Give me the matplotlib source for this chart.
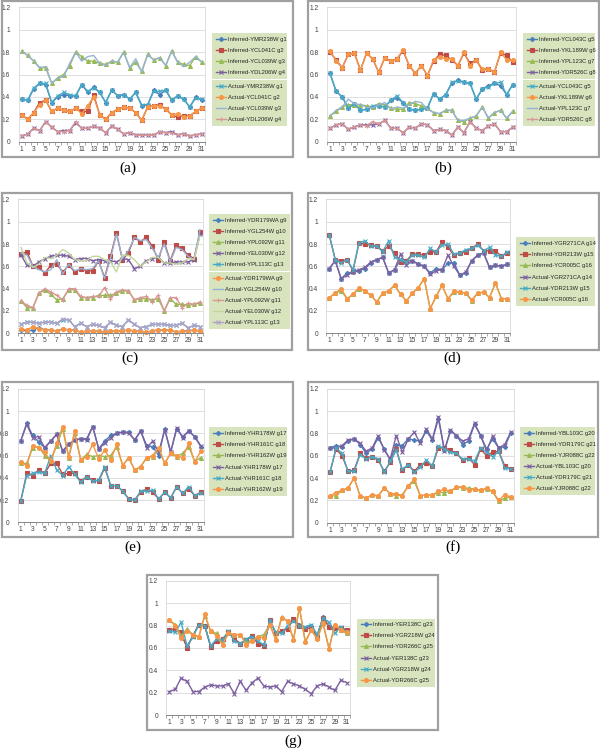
import numpy as np
import matplotlib.pyplot as plt
from matplotlib import font_manager

plt.rcParams['font.family'] = ['Liberation Sans', 'DejaVu Sans']

W, H = 600, 749

days = np.arange(1, 32)
y_ticks = [0, 0.2, 0.4, 0.6, 0.8, 1.0, 1.2]
y_tick_labels = ['0', '0.2', '0.4', '0.6', '0.8', '1', '1.2']
x_ticks = list(range(1, 32, 2))

# ---- panel (a)
inf_g1 = [0.38, 0.37, 0.47, 0.52, 0.51, 0.35, 0.40, 0.42, 0.41, 0.41, 0.51, 0.44, 0.49, 0.44, 0.35, 0.46, 0.41, 0.42, 0.38, 0.44, 0.32, 0.33, 0.46, 0.42, 0.46, 0.37, 0.41, 0.38, 0.31, 0.40, 0.37]
act_g1 = [0.38, 0.37, 0.48, 0.52, 0.52, 0.35, 0.41, 0.44, 0.42, 0.41, 0.51, 0.45, 0.48, 0.44, 0.35, 0.46, 0.41, 0.42, 0.38, 0.44, 0.33, 0.33, 0.45, 0.45, 0.46, 0.37, 0.41, 0.38, 0.31, 0.39, 0.38]
inf_g2 = [0.24, 0.20, 0.26, 0.35, 0.37, 0.27, 0.30, 0.28, 0.27, 0.30, 0.27, 0.27, 0.42, 0.24, 0.20, 0.26, 0.29, 0.31, 0.30, 0.26, 0.19, 0.31, 0.32, 0.33, 0.29, 0.24, 0.22, 0.23, 0.23, 0.27, 0.30]
act_g2 = [0.24, 0.20, 0.26, 0.33, 0.37, 0.27, 0.30, 0.28, 0.27, 0.30, 0.25, 0.32, 0.40, 0.24, 0.20, 0.26, 0.29, 0.31, 0.30, 0.26, 0.19, 0.31, 0.32, 0.32, 0.29, 0.24, 0.25, 0.22, 0.23, 0.27, 0.30]
inf_g3 = [0.81, 0.77, 0.72, 0.66, 0.66, 0.52, 0.57, 0.60, 0.68, 0.80, 0.76, 0.72, 0.72, 0.70, 0.69, 0.72, 0.71, 0.80, 0.66, 0.71, 0.63, 0.78, 0.73, 0.75, 0.68, 0.81, 0.71, 0.69, 0.68, 0.76, 0.71]
act_g3 = [0.81, 0.77, 0.72, 0.66, 0.67, 0.52, 0.57, 0.58, 0.70, 0.80, 0.72, 0.76, 0.77, 0.70, 0.68, 0.72, 0.71, 0.80, 0.66, 0.74, 0.62, 0.78, 0.73, 0.75, 0.68, 0.81, 0.71, 0.67, 0.71, 0.76, 0.71]
inf_g4 = [0.05, 0.07, 0.12, 0.10, 0.18, 0.13, 0.09, 0.10, 0.10, 0.17, 0.12, 0.12, 0.14, 0.12, 0.08, 0.14, 0.11, 0.07, 0.08, 0.06, 0.06, 0.06, 0.06, 0.09, 0.08, 0.09, 0.06, 0.07, 0.05, 0.06, 0.07]
act_g4 = [0.05, 0.07, 0.12, 0.10, 0.18, 0.13, 0.09, 0.09, 0.10, 0.18, 0.12, 0.12, 0.14, 0.12, 0.08, 0.14, 0.11, 0.07, 0.08, 0.06, 0.06, 0.06, 0.06, 0.09, 0.08, 0.08, 0.06, 0.07, 0.05, 0.06, 0.07]

# ---- panel (b)
inf_g5 = [0.61, 0.45, 0.40, 0.30, 0.34, 0.28, 0.29, 0.31, 0.32, 0.31, 0.37, 0.39, 0.35, 0.29, 0.28, 0.29, 0.30, 0.43, 0.38, 0.42, 0.52, 0.55, 0.53, 0.52, 0.38, 0.47, 0.50, 0.52, 0.50, 0.42, 0.51]
act_g5 = [0.61, 0.45, 0.40, 0.30, 0.34, 0.28, 0.29, 0.32, 0.32, 0.31, 0.37, 0.41, 0.35, 0.29, 0.28, 0.29, 0.30, 0.43, 0.38, 0.42, 0.53, 0.54, 0.53, 0.52, 0.38, 0.47, 0.49, 0.52, 0.53, 0.42, 0.51]
inf_g6 = [0.80, 0.73, 0.66, 0.78, 0.79, 0.64, 0.79, 0.74, 0.62, 0.75, 0.72, 0.74, 0.81, 0.68, 0.61, 0.68, 0.59, 0.72, 0.78, 0.77, 0.73, 0.68, 0.79, 0.70, 0.73, 0.64, 0.65, 0.62, 0.79, 0.77, 0.71]
act_g6 = [0.81, 0.72, 0.66, 0.78, 0.79, 0.64, 0.79, 0.74, 0.62, 0.75, 0.72, 0.74, 0.82, 0.68, 0.61, 0.68, 0.59, 0.73, 0.76, 0.74, 0.74, 0.68, 0.80, 0.68, 0.73, 0.65, 0.65, 0.62, 0.80, 0.73, 0.73]
inf_g7 = [0.23, 0.27, 0.31, 0.33, 0.33, 0.33, 0.32, 0.31, 0.34, 0.33, 0.30, 0.29, 0.29, 0.35, 0.34, 0.32, 0.30, 0.26, 0.25, 0.28, 0.28, 0.19, 0.18, 0.21, 0.23, 0.31, 0.21, 0.26, 0.28, 0.21, 0.27]
act_g7 = [0.23, 0.28, 0.31, 0.38, 0.34, 0.33, 0.31, 0.30, 0.33, 0.35, 0.29, 0.31, 0.30, 0.33, 0.36, 0.35, 0.29, 0.26, 0.25, 0.28, 0.28, 0.19, 0.19, 0.21, 0.23, 0.31, 0.21, 0.26, 0.28, 0.21, 0.27]
inf_g8 = [0.12, 0.15, 0.16, 0.11, 0.13, 0.15, 0.15, 0.15, 0.16, 0.19, 0.12, 0.12, 0.08, 0.13, 0.12, 0.16, 0.15, 0.10, 0.11, 0.10, 0.06, 0.13, 0.08, 0.18, 0.12, 0.10, 0.14, 0.16, 0.09, 0.09, 0.13]
act_g8 = [0.12, 0.15, 0.16, 0.11, 0.13, 0.15, 0.14, 0.18, 0.16, 0.19, 0.12, 0.12, 0.08, 0.13, 0.12, 0.16, 0.15, 0.10, 0.11, 0.10, 0.06, 0.13, 0.08, 0.18, 0.12, 0.10, 0.14, 0.16, 0.09, 0.09, 0.13]

# ---- panel (c)
inf_g9 = [0.03, 0.02, 0.03, 0.05, 0.03, 0.03, 0.02, 0.04, 0.03, 0.03, 0.01, 0.02, 0.02, 0.02, 0.01, 0.02, 0.02, 0.02, 0.03, 0.02, 0.02, 0.01, 0.02, 0.03, 0.03, 0.03, 0.01, 0.02, 0.02, 0.03, 0.02]
act_g9 = [0.04, 0.03, 0.06, 0.04, 0.03, 0.03, 0.02, 0.04, 0.03, 0.03, 0.01, 0.02, 0.02, 0.02, 0.01, 0.02, 0.02, 0.02, 0.03, 0.02, 0.02, 0.01, 0.02, 0.03, 0.03, 0.03, 0.01, 0.02, 0.02, 0.03, 0.02]
inf_g10 = [0.71, 0.73, 0.60, 0.59, 0.54, 0.61, 0.62, 0.55, 0.61, 0.55, 0.58, 0.56, 0.56, 0.65, 0.50, 0.69, 0.90, 0.66, 0.72, 0.86, 0.82, 0.86, 0.78, 0.66, 0.82, 0.65, 0.79, 0.76, 0.70, 0.67, 0.91]
act_g10 = [0.72, 0.70, 0.60, 0.57, 0.55, 0.57, 0.66, 0.53, 0.62, 0.56, 0.58, 0.57, 0.58, 0.65, 0.49, 0.67, 0.89, 0.67, 0.74, 0.86, 0.83, 0.84, 0.76, 0.68, 0.80, 0.64, 0.77, 0.75, 0.69, 0.66, 0.93]
inf_g11 = [0.29, 0.23, 0.23, 0.36, 0.39, 0.35, 0.30, 0.31, 0.39, 0.39, 0.32, 0.32, 0.32, 0.34, 0.34, 0.34, 0.36, 0.38, 0.38, 0.30, 0.31, 0.31, 0.30, 0.31, 0.20, 0.31, 0.26, 0.26, 0.25, 0.26, 0.27]
act_g11 = [0.29, 0.25, 0.23, 0.36, 0.40, 0.37, 0.34, 0.30, 0.40, 0.40, 0.33, 0.32, 0.33, 0.33, 0.41, 0.31, 0.37, 0.39, 0.38, 0.30, 0.32, 0.33, 0.28, 0.34, 0.20, 0.32, 0.32, 0.23, 0.27, 0.26, 0.28]
inf_g12 = [0.70, 0.61, 0.60, 0.64, 0.67, 0.69, 0.70, 0.70, 0.69, 0.66, 0.67, 0.67, 0.65, 0.66, 0.65, 0.65, 0.64, 0.67, 0.66, 0.58, 0.60, 0.65, 0.67, 0.68, 0.63, 0.63, 0.64, 0.64, 0.64, 0.66, 0.89]
act_g12 = [0.77, 0.63, 0.59, 0.62, 0.68, 0.67, 0.70, 0.75, 0.72, 0.66, 0.65, 0.65, 0.69, 0.69, 0.66, 0.64, 0.55, 0.70, 0.70, 0.66, 0.60, 0.64, 0.68, 0.68, 0.63, 0.63, 0.62, 0.63, 0.67, 0.66, 0.87]
inf_g13 = [0.08, 0.10, 0.10, 0.09, 0.10, 0.10, 0.09, 0.12, 0.12, 0.06, 0.09, 0.06, 0.08, 0.07, 0.05, 0.10, 0.07, 0.06, 0.12, 0.08, 0.05, 0.06, 0.08, 0.08, 0.08, 0.07, 0.07, 0.09, 0.05, 0.07, 0.06]
act_g13 = [0.08, 0.10, 0.10, 0.09, 0.10, 0.10, 0.09, 0.13, 0.12, 0.06, 0.09, 0.06, 0.08, 0.07, 0.05, 0.10, 0.07, 0.06, 0.12, 0.08, 0.05, 0.06, 0.08, 0.08, 0.08, 0.07, 0.07, 0.09, 0.05, 0.07, 0.06]

# ---- panel (d)
inf_g14 = [0.58, 0.65, 0.49, 0.54, 0.55, 0.56, 0.58, 0.63, 0.66, 0.68, 0.54, 0.57, 0.66, 0.65, 0.65, 0.62, 0.60, 0.54, 0.58, 0.57, 0.63, 0.63, 0.52, 0.54, 0.65, 0.70, 0.72, 0.59, 0.61, 0.60, 0.62]
act_g14 = [0.58, 0.65, 0.49, 0.52, 0.55, 0.57, 0.59, 0.64, 0.66, 0.68, 0.54, 0.57, 0.71, 0.61, 0.65, 0.62, 0.60, 0.53, 0.56, 0.57, 0.70, 0.60, 0.52, 0.55, 0.65, 0.70, 0.72, 0.59, 0.61, 0.60, 0.62]
inf_g15 = [0.88, 0.66, 0.65, 0.66, 0.56, 0.81, 0.80, 0.79, 0.78, 0.74, 0.78, 0.72, 0.64, 0.65, 0.71, 0.71, 0.70, 0.73, 0.73, 0.82, 0.77, 0.70, 0.72, 0.73, 0.76, 0.80, 0.74, 0.74, 0.74, 0.69, 0.72]
act_g15 = [0.88, 0.66, 0.63, 0.66, 0.57, 0.81, 0.83, 0.78, 0.78, 0.73, 0.83, 0.68, 0.66, 0.64, 0.70, 0.70, 0.68, 0.76, 0.73, 0.79, 0.80, 0.71, 0.72, 0.75, 0.76, 0.79, 0.74, 0.77, 0.70, 0.69, 0.73]
inf_g16 = [0.32, 0.36, 0.38, 0.31, 0.35, 0.40, 0.38, 0.34, 0.28, 0.36, 0.38, 0.43, 0.35, 0.29, 0.36, 0.41, 0.49, 0.22, 0.33, 0.43, 0.31, 0.37, 0.37, 0.36, 0.29, 0.36, 0.37, 0.32, 0.45, 0.31, 0.31]
act_g16 = [0.32, 0.36, 0.40, 0.31, 0.35, 0.41, 0.38, 0.34, 0.28, 0.36, 0.38, 0.43, 0.35, 0.29, 0.36, 0.41, 0.49, 0.22, 0.33, 0.43, 0.31, 0.38, 0.37, 0.36, 0.30, 0.36, 0.37, 0.32, 0.45, 0.31, 0.31]

# ---- panel (e)
inf_g17 = [0.73, 0.89, 0.78, 0.72, 0.67, 0.73, 0.79, 0.64, 0.70, 0.74, 0.75, 0.75, 0.86, 0.66, 0.73, 0.78, 0.80, 0.81, 0.81, 0.74, 0.82, 0.69, 0.68, 0.60, 0.84, 0.63, 0.84, 0.77, 0.82, 0.77, 0.68]
act_g17 = [0.73, 0.88, 0.76, 0.77, 0.67, 0.73, 0.79, 0.64, 0.70, 0.74, 0.75, 0.74, 0.86, 0.66, 0.71, 0.76, 0.80, 0.81, 0.80, 0.74, 0.82, 0.67, 0.73, 0.63, 0.83, 0.63, 0.85, 0.76, 0.82, 0.77, 0.69]
inf_g18 = [0.19, 0.44, 0.42, 0.47, 0.44, 0.53, 0.53, 0.43, 0.44, 0.44, 0.37, 0.41, 0.38, 0.37, 0.49, 0.33, 0.33, 0.28, 0.21, 0.20, 0.27, 0.30, 0.27, 0.21, 0.27, 0.22, 0.32, 0.26, 0.30, 0.24, 0.27]
act_g18 = [0.19, 0.42, 0.44, 0.45, 0.44, 0.60, 0.47, 0.42, 0.50, 0.43, 0.36, 0.41, 0.37, 0.38, 0.50, 0.33, 0.33, 0.28, 0.21, 0.20, 0.28, 0.28, 0.29, 0.21, 0.27, 0.22, 0.32, 0.26, 0.32, 0.24, 0.26]
inf_g19 = [0.53, 0.53, 0.67, 0.68, 0.60, 0.55, 0.69, 0.84, 0.58, 0.80, 0.56, 0.61, 0.59, 0.60, 0.59, 0.60, 0.68, 0.51, 0.58, 0.47, 0.50, 0.58, 0.59, 0.66, 0.53, 0.62, 0.59, 0.62, 0.68, 0.55, 0.58]
act_g19 = [0.54, 0.51, 0.69, 0.67, 0.63, 0.55, 0.71, 0.86, 0.59, 0.82, 0.56, 0.59, 0.70, 0.57, 0.65, 0.56, 0.70, 0.51, 0.58, 0.47, 0.50, 0.58, 0.60, 0.67, 0.53, 0.62, 0.60, 0.58, 0.71, 0.54, 0.64]

# ---- panel (f)
inf_g20 = [0.67, 0.69, 0.68, 0.73, 0.75, 0.70, 0.62, 0.66, 0.76, 0.66, 0.56, 0.70, 0.69, 0.75, 0.74, 0.73, 0.82, 0.74, 0.93, 0.65, 0.82, 0.78, 0.70, 0.73, 0.88, 0.78, 0.66, 0.75, 0.67, 0.68, 0.80]
act_g20 = [0.67, 0.67, 0.69, 0.74, 0.75, 0.71, 0.64, 0.67, 0.78, 0.65, 0.57, 0.78, 0.63, 0.75, 0.81, 0.71, 0.84, 0.75, 0.95, 0.64, 0.83, 0.78, 0.73, 0.75, 0.89, 0.78, 0.64, 0.78, 0.67, 0.70, 0.81]
inf_g21 = [0.45, 0.66, 0.60, 0.46, 0.47, 0.62, 0.58, 0.59, 0.56, 0.46, 0.54, 0.66, 0.47, 0.52, 0.46, 0.52, 0.53, 0.51, 0.67, 0.67, 0.65, 0.62, 0.56, 0.58, 0.52, 0.66, 0.60, 0.63, 0.64, 0.51, 0.48]
act_g21 = [0.45, 0.67, 0.62, 0.46, 0.46, 0.61, 0.57, 0.59, 0.57, 0.45, 0.55, 0.65, 0.48, 0.52, 0.45, 0.50, 0.56, 0.51, 0.69, 0.66, 0.63, 0.62, 0.57, 0.57, 0.55, 0.67, 0.63, 0.59, 0.64, 0.49, 0.48]
inf_g22 = [0.24, 0.24, 0.29, 0.31, 0.40, 0.24, 0.22, 0.25, 0.24, 0.31, 0.26, 0.24, 0.25, 0.33, 0.37, 0.24, 0.25, 0.25, 0.27, 0.27, 0.28, 0.32, 0.31, 0.31, 0.30, 0.29, 0.30, 0.28, 0.19, 0.22, 0.23]
act_g22 = [0.24, 0.27, 0.29, 0.31, 0.40, 0.24, 0.22, 0.25, 0.24, 0.31, 0.26, 0.26, 0.24, 0.33, 0.39, 0.24, 0.25, 0.25, 0.28, 0.30, 0.28, 0.32, 0.32, 0.29, 0.30, 0.29, 0.31, 0.28, 0.20, 0.25, 0.23]

# ---- panel (g)
inf_g23 = [0.76, 0.77, 0.72, 0.61, 0.71, 0.81, 0.80, 0.61, 0.67, 0.68, 0.74, 0.68, 0.64, 0.67, 0.71, 0.64, 0.62, 0.85, 0.73, 0.75, 0.78, 0.85, 0.81, 0.78, 0.80, 0.70, 0.88, 0.79, 0.78, 0.78, 0.76]
act_g23 = [0.21, 0.23, 0.33, 0.30, 0.21, 0.21, 0.25, 0.27, 0.26, 0.26, 0.28, 0.19, 0.30, 0.22, 0.29, 0.33, 0.26, 0.25, 0.26, 0.21, 0.30, 0.28, 0.26, 0.23, 0.19, 0.26, 0.28, 0.25, 0.22, 0.31, 0.29]
inf_g24 = [0.76, 0.77, 0.74, 0.60, 0.71, 0.81, 0.80, 0.61, 0.66, 0.68, 0.74, 0.68, 0.64, 0.67, 0.71, 0.64, 0.62, 0.85, 0.73, 0.75, 0.77, 0.86, 0.80, 0.77, 0.78, 0.70, 0.87, 0.79, 0.78, 0.78, 0.76]
act_g24 = [0.75, 0.74, 0.83, 0.62, 0.70, 0.81, 0.80, 0.62, 0.68, 0.67, 0.75, 0.66, 0.64, 0.68, 0.70, 0.66, 0.63, 0.85, 0.74, 0.73, 0.80, 0.84, 0.80, 0.79, 0.81, 0.72, 0.87, 0.83, 0.73, 0.79, 0.74]
inf_g25 = [0.85, 0.81, 0.71, 0.77, 0.72, 0.70, 0.89, 0.75, 0.73, 0.64, 0.73, 0.72, 0.72, 0.65, 0.67, 0.70, 0.72, 0.81, 0.68, 0.88, 0.84, 0.68, 0.96, 0.66, 0.76, 0.69, 0.82, 0.60, 0.81, 0.76, 0.73]
act_g25 = [0.85, 0.80, 0.69, 0.75, 0.72, 0.70, 0.90, 0.75, 0.71, 0.63, 0.73, 0.72, 0.72, 0.63, 0.66, 0.70, 0.69, 0.81, 0.67, 0.87, 0.84, 0.67, 0.96, 0.65, 0.76, 0.68, 0.82, 0.59, 0.81, 0.76, 0.74]

# excel 2007 palette: colour, marker, marker size
STYLES = {
    'blue': ('#4A7EBB', 'D', 2.2),
    'red': ('#BE4B48', 's', 2.6),
    'green': ('#98B954', '^', 2.8),
    'purple': ('#7D60A0', 'x', 2.8),
    'cyan': ('#46AAC5', 'x', 2.8),
    'orange': ('#F79646', 'o', 2.8),
    'lblue': ('#95B3D7', '', 0),
    'pink': ('#D99694', '+', 2.4),
    'lgreen': ('#C3D69B', '', 0),
    'lavender': ('#B3A2C7', 'x', 3.0),
}

panels = [
    dict(tag='(a)',
         inferred=[('Inferred-YMR238W g1', inf_g1, 'blue'), ('Inferred-YCL041C g2', inf_g2, 'red'),
                   ('Inferred-YCL039W g3', inf_g3, 'green'), ('Inferred-YDL206W g4', inf_g4, 'purple')],
         actual=[('Actual-YMR238W g1', act_g1, 'cyan'), ('Actual-YCL041C g2', act_g2, 'orange'),
                 ('Actual-YCL039W g3', act_g3, 'lblue'), ('Actual-YDL206W g4', act_g4, 'pink')]),
    dict(tag='(b)',
         inferred=[('Inferred-YCL043C g5', inf_g5, 'blue'), ('Inferred-YKL189W g6', inf_g6, 'red'),
                   ('Inferred-YPL123C g7', inf_g7, 'green'), ('Inferred-YDR526C g8', inf_g8, 'purple')],
         actual=[('Actual-YCL043C g5', act_g5, 'cyan'), ('Actual-YKL189W g6', act_g6, 'orange'),
                 ('Actual-YPL123C g7', act_g7, 'lblue'), ('Actual-YDR526C g8', act_g8, 'pink')]),
    dict(tag='(c)',
         inferred=[('Inferred-YDR179WA g9', inf_g9, 'blue'), ('Inferred-YGL254W g10', inf_g10, 'red'),
                   ('Inferred-YPL092W g11', inf_g11, 'green'), ('Inferred-YEL030W g12', inf_g12, 'purple'),
                   ('Inferred-YPL113C g13', inf_g13, 'cyan')],
         actual=[('Actual-YDR179WA g9', act_g9, 'orange'), ('Actual-YGL254W g10', act_g10, 'lblue'),
                 ('Actual-YPL092W g11', act_g11, 'pink'), ('Actual-YEL030W g12', act_g12, 'lgreen'),
                 ('Actual-YPL113C g13', act_g13, 'lavender')]),
    dict(tag='(d)',
         inferred=[('Inferred-YGR271CA g14', inf_g14, 'blue'), ('Inferred-YDR213W g15', inf_g15, 'red'),
                   ('Inferred-YCR005C g16', inf_g16, 'green')],
         actual=[('Actual-YGR271CA g14', act_g14, 'purple'), ('Actual-YDR213W g15', act_g15, 'cyan'),
                 ('Actual-YCR005C g16', act_g16, 'orange')]),
    dict(tag='(e)',
         inferred=[('Inferred-YHR178W g17', inf_g17, 'blue'), ('Inferred-YHR161C g18', inf_g18, 'red'),
                   ('Inferred-YHR162W g19', inf_g19, 'green')],
         actual=[('Actual-YHR178W g17', act_g17, 'purple'), ('Actual-YHR161C g18', act_g18, 'cyan'),
                 ('Actual-YHR162W g19', act_g19, 'orange')]),
    dict(tag='(f)',
         inferred=[('Inferred-YBL103C g20', inf_g20, 'blue'), ('Inferred-YDR179C g21', inf_g21, 'red'),
                   ('Inferred-YJR088C g22', inf_g22, 'green')],
         actual=[('Actual-YBL103C g20', act_g20, 'purple'), ('Actual-YDR179C g21', act_g21, 'cyan'),
                 ('Actual-YJR088C g22', act_g22, 'orange')]),
    dict(tag='(g)',
         inferred=[('Inferred-YER138C g23', inf_g23, 'blue'), ('Inferred-YGR218W g24', inf_g24, 'red'),
                   ('Inferred-YDR266C g25', inf_g25, 'green')],
         actual=[('Actual-YER138C g23', act_g23, 'purple'), ('Actual-YGR218W g24', act_g24, 'cyan'),
                 ('Actual-YDR266C g25', act_g25, 'orange')]),
]

# pixel layout: x of day 1, x of day 31, y of 0, y of 1.0, frame box, legend (left, width, top1, top2), caption
layout = [
    dict(x1=21.7, x31=201.7, y0=141.7, y1=29.7, frame=(2, 1, 293, 157), leg=(212, 75, 33, 80), cap=(128, 168)),
    dict(x1=330, x31=512.7, y0=141.7, y1=29.7, frame=(308, 1, 599, 157), leg=(523, 72, 33, 80), cap=(443, 168)),
    dict(x1=21, x31=200, y0=333.3, y1=221.7, frame=(2, 193, 292, 350), leg=(209, 81, 214, 272), cap=(130, 358)),
    dict(x1=329.3, x31=507.3, y0=333.3, y1=221.7, frame=(308, 193, 599, 350), leg=(516, 79, 237, 271.5), cap=(452, 358)),
    dict(x1=20.7, x31=200.7, y0=522.3, y1=411, frame=(2, 382, 293, 537), leg=(209, 78, 427.5, 461), cap=(133, 547)),
    dict(x1=330, x31=510.7, y0=522.7, y1=411, frame=(308, 382, 598, 537), leg=(520, 75, 427, 460.5), cap=(453, 547)),
    dict(x1=169.3, x31=346.7, y0=715, y1=603.3, frame=(147, 575, 438, 730), leg=(357, 78, 618.5, 652.5), cap=(293, 741.5)),
]

installed = {f.name for f in font_manager.fontManager.ttflist}
LEGEND_FONT = 'Liberation Sans Narrow' if 'Liberation Sans Narrow' in installed else 'Liberation Sans'
LEGEND_SIZE = 5.0 if LEGEND_FONT == 'Liberation Sans Narrow' else 4.2


def fx(px):
    return px / W


def fy(py):
    return 1 - py / H


def draw_panel(fig, panel, lay):
    step = (lay['x31'] - lay['x1']) / 30
    left = lay['x1'] - 0.5 * step
    right = lay['x31'] + 0.5 * step
    top = lay['y0'] - 1.2 * (lay['y0'] - lay['y1'])

    fl, ft, fr, fb = lay['frame']
    fig.add_artist(plt.Rectangle((fx(fl), fy(fb)), (fr - fl) / W, (fb - ft) / H,
                                 transform=fig.transFigure, fill=False,
                                 edgecolor='#a0a0a0', lw=1.6))

    ax = fig.add_axes([fx(left), fy(lay['y0']), (right - left) / W, (lay['y0'] - top) / H])
    ax.set_xlim(0.5, 31.5)
    ax.set_ylim(0, 1.2)
    ax.set_yticks(y_ticks)
    ax.set_yticklabels(y_tick_labels)
    ax.set_xticks(x_ticks)
    ax.set_xticks(np.arange(0.5, 32, 1), minor=True)
    ax.tick_params(axis='y', length=0, pad=6, labelsize=4.8, labelcolor='#404040')
    ax.tick_params(axis='x', which='major', length=0, pad=3, labelsize=4.8, labelcolor='#404040')
    ax.tick_params(axis='x', which='minor', length=2, width=0.5, color='#868686')
    ax.grid(axis='y', color='#d9d9d9', lw=0.6)
    ax.set_axisbelow(True)
    for side in ['top', 'right', 'left']:
        ax.spines[side].set_color('#d9d9d9')
        ax.spines[side].set_linewidth(0.6)
    ax.spines['bottom'].set_color('#868686')
    ax.spines['bottom'].set_linewidth(0.7)

    groups = []
    for series in (panel['inferred'], panel['actual']):
        handles = []
        for label, values, key in series:
            color, marker, ms = STYLES[key]
            line, = ax.plot(days, values, color=color, lw=1.0, marker=marker or None,
                            ms=ms, mew=0.8, label=label, clip_on=False)
            handles.append(line)
        groups.append(handles)

    lx, lw, t1, t2 = lay['leg']
    legends = []
    for handles, ty in zip(groups, (t1, t2)):
        leg = ax.legend(handles=handles, loc='upper left',
                        bbox_to_anchor=(fx(lx), fy(ty), lw / W, 0),
                        bbox_transform=fig.transFigure, mode='expand',
                        prop={'family': LEGEND_FONT, 'size': LEGEND_SIZE},
                        frameon=True, fancybox=False,
                        facecolor='#D7E4BD', edgecolor='none', framealpha=1,
                        handlelength=1.8, handletextpad=0.25, labelspacing=1.03,
                        borderpad=0.62, borderaxespad=0)
        for txt in leg.get_texts():
            txt.set_color('#262626')
        legends.append(leg)
    ax.add_artist(legends[0])

    fig.text(fx(lay['cap'][0]), fy(lay['cap'][1]), panel['tag'], ha='center', va='center',
             fontsize=11, family='Liberation Serif')


fig = plt.figure(figsize=(6.0, 7.49), dpi=100)
for panel, lay in zip(panels, layout):
    draw_panel(fig, panel, lay)

fig.savefig('out.png', dpi=100, facecolor='white')
